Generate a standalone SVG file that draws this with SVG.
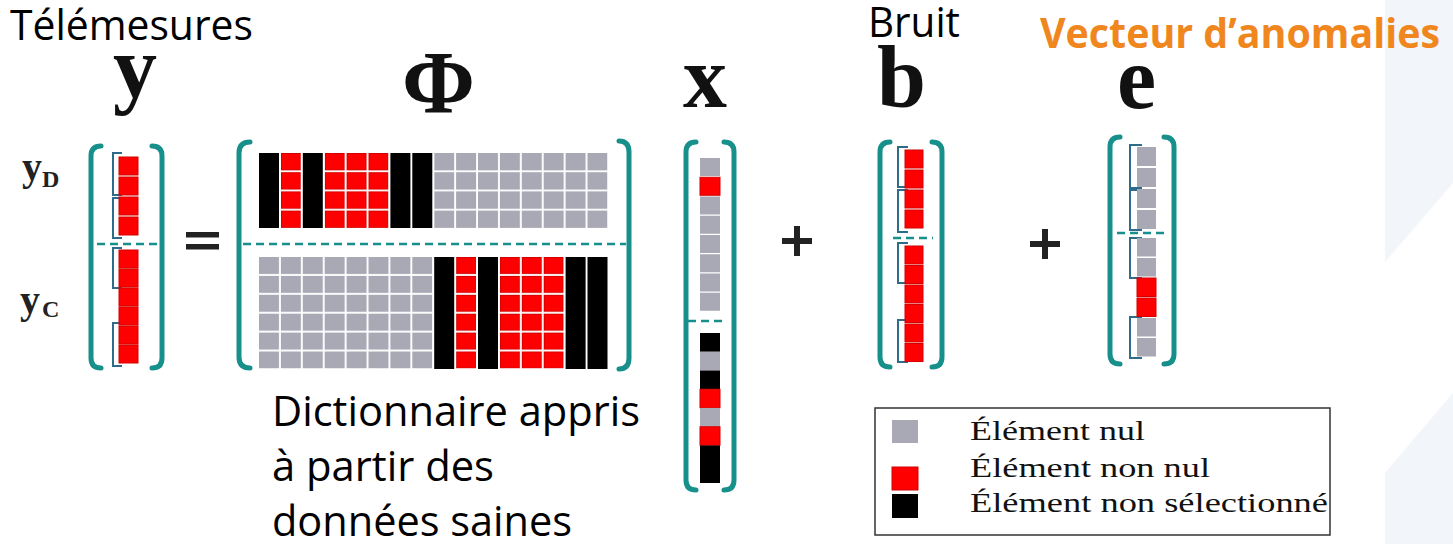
<svg xmlns="http://www.w3.org/2000/svg" width="1453" height="544" viewBox="0 0 1453 544">
<style>
.br{fill:none;stroke:#17908c;stroke-width:5;stroke-linecap:round}
.sb{fill:none;stroke:#2f6c8c;stroke-width:2}
.dash{stroke:#17908c;stroke-width:2.5;stroke-dasharray:8 5}
.gy{fill:#a9a8b5}
.rd{fill:#ff0000;stroke:#d40000;stroke-width:1}
.bk{fill:#000}
.big{font-family:"Liberation Serif",serif;font-weight:bold;font-size:88px;fill:#111}
.sub{font-family:"Liberation Serif",serif;font-weight:bold;fill:#222}
.lbl{font-family:"Open Sans",sans-serif;font-size:42px;fill:#000}
.leg{font-family:"Liberation Serif",serif;font-size:27px;fill:#111}
.op{fill:#222}
</style>
<defs>
<pattern id="gT" patternUnits="userSpaceOnUse" x="259" y="153" width="21.9" height="19.2"><rect x="0" y="0" width="20" height="17.4" fill="#a9a8b5"/></pattern>
<pattern id="rT" patternUnits="userSpaceOnUse" x="259" y="153" width="21.9" height="19.2"><rect x="0.5" y="0.5" width="19" height="16.4" fill="#ff0000" stroke="#d40000" stroke-width="1"/></pattern>
<pattern id="gB" patternUnits="userSpaceOnUse" x="259" y="257" width="21.9" height="18.9"><rect x="0" y="0" width="20" height="17" fill="#a9a8b5"/></pattern>
<pattern id="rB" patternUnits="userSpaceOnUse" x="259" y="257" width="21.9" height="18.9"><rect x="0.5" y="0.5" width="19" height="16" fill="#ff0000" stroke="#d40000" stroke-width="1"/></pattern>
</defs>

<rect width="1453" height="544" fill="#fff"/>
<rect x="1385" y="0" width="68" height="544" fill="#f2f5fa"/>
<polygon points="1385,262 1453,183 1453,393 1385,473" fill="#fff"/>

<g id="titles">
<text class="lbl" x="10" y="40" textLength="243" lengthAdjust="spacingAndGlyphs">Télémesures</text>
<text class="lbl" x="868" y="37" textLength="92" lengthAdjust="spacingAndGlyphs">Bruit</text>
<text class="lbl" x="1040" y="48" textLength="400" lengthAdjust="spacingAndGlyphs" style="font-weight:bold;fill:#f0861e">Vecteur d’anomalies</text>
<text class="big" x="113" y="97">y</text>
<text class="big" x="402" y="112">Φ</text>
<text class="big" x="683" y="107">x</text>
<text class="big" x="877" y="107">b</text>
<text class="big" x="1117" y="108">e</text>
</g>

<g id="vec-y">
<text class="sub" x="22" y="180" font-size="40">y</text><text class="sub" x="42" y="187" font-size="24">D</text>
<text class="sub" x="20" y="313" font-size="40">y</text><text class="sub" x="42" y="317" font-size="24">C</text>
<path class="br" d="M101,146 Q91,146 91,156 L91,358 Q91,368 101,368"/>
<path class="br" d="M152,146 Q162,146 162,156 L162,358 Q162,368 152,368"/>
<path class="sb" d="M122,153 L113,153 L113,195 L122,195 M122,198 L113,198 L113,238 L122,238 M122,248 L113,248 L113,288 L122,288 M122,323 L113,323 L113,366 L122,366"/>
<rect class="rd" x="119" y="157" width="19" height="18"/>
<rect class="rd" x="119" y="177" width="19" height="18"/>
<rect class="rd" x="119" y="197" width="19" height="18"/>
<rect class="rd" x="119" y="217" width="19" height="18"/>
<rect class="rd" x="119" y="250" width="19" height="18"/>
<rect class="rd" x="119" y="269" width="19" height="18"/>
<rect class="rd" x="119" y="288" width="19" height="18"/>
<rect class="rd" x="119" y="307" width="19" height="18"/>
<rect class="rd" x="119" y="326" width="19" height="18"/>
<rect class="rd" x="119" y="345" width="19" height="18"/>
<line class="dash" x1="97" y1="244" x2="157" y2="244"/>
</g>

<g id="mat-phi">
<path class="br" d="M250,142 Q239,142 239,153 L239,357 Q239,368 250,368"/>
<path class="br" d="M619,141 Q629,141 629,152 L629,358 Q629,369 619,369"/>
<rect class="bk" x="259" y="153" width="20" height="75"/>
<rect x="280.9" y="153" width="20" height="75" fill="url(#rT)"/>
<rect class="bk" x="302.8" y="153" width="20" height="75"/>
<rect x="324.7" y="153" width="63.8" height="75" fill="url(#rT)"/>
<rect class="bk" x="390.4" y="153" width="20" height="75"/>
<rect class="bk" x="412.3" y="153" width="20" height="75"/>
<rect x="434.2" y="153" width="173.3" height="75" fill="url(#gT)"/>
<line class="dash" x1="243" y1="244" x2="626" y2="244"/>
<rect x="259" y="257" width="173.3" height="111.5" fill="url(#gB)"/>
<rect class="bk" x="434.2" y="257" width="20" height="112"/>
<rect x="456.1" y="257" width="20" height="111.5" fill="url(#rB)"/>
<rect class="bk" x="478" y="257" width="20" height="112"/>
<rect x="499.9" y="257" width="63.8" height="111.5" fill="url(#rB)"/>
<rect class="bk" x="565.6" y="257" width="20" height="112"/>
<rect class="bk" x="587.5" y="257" width="20" height="112"/>
</g>

<g id="vec-x">
<path class="br" d="M696,142 Q686,142 686,152 L686,480 Q686,490 696,490"/>
<path class="br" d="M724,142 Q734,142 734,152 L734,480 Q734,490 724,490"/>
<rect class="gy" x="700" y="158" width="20" height="18"/>
<rect class="rd" x="700" y="177.25" width="20" height="18"/>
<rect class="gy" x="700" y="196.5" width="20" height="18"/>
<rect class="gy" x="700" y="215.75" width="20" height="18"/>
<rect class="gy" x="700" y="235" width="20" height="18"/>
<rect class="gy" x="700" y="254.25" width="20" height="18"/>
<rect class="gy" x="700" y="273.5" width="20" height="18"/>
<rect class="gy" x="700" y="292.75" width="20" height="18"/>
<line class="dash" x1="688" y1="321" x2="724" y2="321"/>
<rect class="bk" x="700" y="333" width="20" height="18.75"/>
<rect class="gy" x="700" y="351.75" width="20" height="18.75"/>
<rect class="bk" x="700" y="370.5" width="20" height="18.75"/>
<rect class="rd" x="700" y="389.25" width="20" height="18.5"/>
<rect class="gy" x="700" y="408" width="20" height="18.75"/>
<rect class="rd" x="700" y="426.75" width="20" height="18.5"/>
<rect class="bk" x="700" y="445.5" width="20" height="37.5"/>
</g>

<g id="vec-b">
<path class="br" d="M890,142 Q880,142 880,152 L880,357 Q880,367 890,367"/>
<path class="br" d="M932,142 Q942,142 942,152 L942,357 Q942,367 932,367"/>
<path class="sb" d="M908,147 L898,147 L898,187 L908,187 M908,190 L898,190 L898,232 L908,232 M908,243 L898,243 L898,283 L908,283 M908,320 L898,320 L898,362 L908,362"/>
<rect class="rd" x="905" y="150" width="18" height="18"/>
<rect class="rd" x="905" y="170" width="18" height="18"/>
<rect class="rd" x="905" y="190" width="18" height="18"/>
<rect class="rd" x="905" y="210" width="18" height="18"/>
<line class="dash" x1="893" y1="238" x2="933" y2="238"/>
<rect class="rd" x="905" y="246" width="18" height="18"/>
<rect class="rd" x="905" y="265.5" width="18" height="18"/>
<rect class="rd" x="905" y="285" width="18" height="18"/>
<rect class="rd" x="905" y="304.5" width="18" height="18"/>
<rect class="rd" x="905" y="324" width="18" height="18"/>
<rect class="rd" x="905" y="343.5" width="18" height="18"/>
</g>

<g id="vec-e">
<path class="br" d="M1120,137 Q1110,137 1110,147 L1110,354 Q1110,364 1120,364"/>
<path class="br" d="M1164,137 Q1174,137 1174,147 L1174,354 Q1174,364 1164,364"/>
<path class="sb" d="M1142,145 L1130,145 L1130,188 L1142,188 M1142,190 L1130,190 L1130,230 L1142,230 M1142,238 L1130,238 L1130,278 L1142,278 M1142,317 L1130,317 L1130,358 L1142,358"/>
<rect class="gy" x="1137" y="147" width="19" height="19"/>
<rect class="gy" x="1137" y="168" width="19" height="19"/>
<rect class="gy" x="1137" y="189" width="19" height="19"/>
<rect class="gy" x="1137" y="210" width="19" height="19"/>
<line class="dash" x1="1117" y1="233" x2="1168" y2="233"/>
<rect class="gy" x="1137" y="238" width="19" height="18.5"/>
<rect class="gy" x="1137" y="258" width="19" height="18.5"/>
<rect class="rd" x="1137" y="278" width="19" height="18.5"/>
<rect class="rd" x="1137" y="298" width="19" height="18.5"/>
<rect class="gy" x="1137" y="318" width="19" height="18.5"/>
<rect class="gy" x="1137" y="338" width="19" height="18.5"/>
</g>

<g id="operators">
<rect class="op" x="186" y="232" width="33" height="5.5"/>
<rect class="op" x="186" y="244" width="33" height="5.5"/>
<rect class="op" x="782" y="238" width="30" height="6"/>
<rect class="op" x="794" y="226" width="6" height="30"/>
<rect class="op" x="1030" y="241" width="30" height="6"/>
<rect class="op" x="1042" y="229" width="6" height="30"/>
</g>

<g id="dictionary-label">
<text class="lbl" x="272" y="426" textLength="368" lengthAdjust="spacingAndGlyphs">Dictionnaire appris</text>
<text class="lbl" x="272" y="481" textLength="222" lengthAdjust="spacingAndGlyphs">à partir des</text>
<text class="lbl" x="272" y="536" textLength="300" lengthAdjust="spacingAndGlyphs">données saines</text>
</g>

<g id="legend">
<rect x="875" y="408" width="455" height="127" fill="#fff" stroke="#333" stroke-width="1.5"/>
<rect class="gy" x="892" y="420" width="26" height="23"/>
<rect class="rd" x="892" y="467" width="26" height="23"/>
<rect class="bk" x="892" y="494" width="26" height="24"/>
<text class="leg" x="970" y="440" textLength="175" lengthAdjust="spacingAndGlyphs">Élément nul</text>
<text class="leg" x="970" y="477" textLength="240" lengthAdjust="spacingAndGlyphs">Élément non nul</text>
<text class="leg" x="970" y="512" textLength="358" lengthAdjust="spacingAndGlyphs">Élément non sélectionné</text>
</g>

<g id="connectors"></g>
</svg>
